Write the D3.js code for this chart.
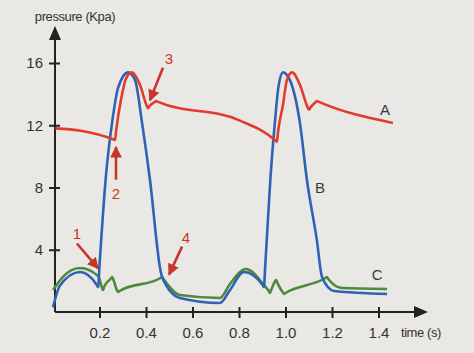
<!DOCTYPE html>
<html>
<head>
<meta charset="utf-8">
<script src="https://cdn.jsdelivr.net/npm/d3@7"></script>
<style>
  body { margin: 0; background: #e9e8e5; }
  svg { display: block; font-family: "Liberation Sans", Arial, sans-serif; }
</style>
</head>
<body>
<div id="chart"></div>
<script>
// time (s) and pressure (kPa)
var aorta = [
  [0.01, 11.8], [0.12, 11.65], [0.262, 11.08], [0.267, 11.05], [0.272, 11.7],
  [0.292, 13.6], [0.314, 15.0], [0.34, 15.4], [0.374, 14.6], [0.402, 13.3],
  [0.409, 13.1], [0.416, 13.25], [0.438, 13.5], [0.443, 13.56], [0.452, 13.5],
  [0.804, 12.3], [0.958, 11.0], [0.963, 10.93], [0.968, 11.6], [0.989, 13.3],
  [1.006, 14.9], [1.028, 15.4], [1.062, 14.6], [1.094, 13.2], [1.101, 13.0],
  [1.108, 13.15], [1.13, 13.5], [1.135, 13.56], [1.144, 13.5], [1.462, 12.15]
];
var ventricle = [
  [0.00, 0.3], [0.03, 1.7], [0.116, 2.57], [0.188, 1.75], [0.194, 1.6],
  [0.2, 3.0], [0.228, 8.8], [0.254, 12.15], [0.28, 14.4], [0.323, 15.4],
  [0.353, 14.9], [0.383, 12.15], [0.417, 8.5], [0.462, 2.7], [0.469, 2.25],
  [0.546, 0.9], [0.718, 0.58], [0.761, 1.4], [0.821, 2.57], [0.901, 1.75],
  [0.907, 1.6], [0.913, 3.0], [0.936, 8.8], [0.955, 12.3], [0.97, 14.5],
  [0.989, 15.4], [1.019, 14.9], [1.062, 12.15], [1.092, 8.5], [1.135, 4.6],
  [1.157, 2.25], [1.209, 1.35], [1.437, 1.16]
];
var atrium = [
  [0.00, 1.41], [0.039, 2.2], [0.116, 2.83], [0.194, 2.31], [0.21, 1.6],
  [0.215, 1.41], [0.221, 1.65], [0.249, 2.15], [0.254, 2.25], [0.259, 2.1],
  [0.275, 1.4], [0.28, 1.29], [0.286, 1.35], [0.464, 2.2], [0.469, 2.25],
  [0.476, 2.1], [0.546, 1.09], [0.718, 0.9], [0.761, 1.8], [0.83, 2.76],
  [0.907, 1.74], [0.928, 1.35], [0.933, 1.22], [0.938, 1.4], [0.954, 1.95],
  [0.959, 2.06], [0.964, 1.9], [0.989, 1.25], [0.994, 1.16], [1.0, 1.22],
  [1.173, 2.2], [1.178, 2.25], [1.185, 2.1], [1.243, 1.54], [1.437, 1.48]
];
var xTicks = [0.2, 0.4, 0.6, 0.8, 1.0, 1.2, 1.4];
var yTicks = [4, 8, 12, 16];
var seriesNames = [["A", 1.428, 13.0], ["B", 1.148, 8.0], ["C", 1.394, 2.4]];
// annotation arrows: label, label pos, arrow start, arrow tip (t, kPa)
var notes = [
  ["1", [0.103, 5.0], [0.103, 4.4], [0.194, 2.8]],
  ["2", [0.271, 7.6], [0.271, 8.5], [0.271, 10.6]],
  ["3", [0.499, 16.3], [0.473, 15.7], [0.417, 13.6]],
  ["4", [0.572, 4.8], [0.555, 4.2], [0.499, 2.4]]
];

var width = 474, height = 353;
var x = d3.scaleLinear().domain([0, 1.4]).range([53, 378.5]);
var y = d3.scaleLinear().domain([0, 16]).range([312, 63]);
var axisX = 55;

var svg = d3.select("#chart").append("svg")
    .attr("width", width)
    .attr("height", height);

svg.append("rect").attr("width", width).attr("height", height).attr("fill", "#e9e8e5");

var defs = svg.append("defs");
defs.append("marker").attr("id", "head")
    .attr("viewBox", "0 0 10 10").attr("refX", 9).attr("refY", 5)
    .attr("markerWidth", 4.5).attr("markerHeight", 4.5).attr("orient", "auto")
  .append("path").attr("d", "M0,0L10,5L0,10z").attr("fill", "#c8352b");

// axes
var gx = svg.append("g").attr("transform", "translate(0," + y(0) + ")")
    .call(d3.axisBottom(x).tickValues(xTicks).tickFormat(d3.format(".1f")).tickSize(0).tickPadding(15));
gx.select(".domain").remove();
gx.selectAll(".tick").append("line").attr("y1", -5).attr("y2", 6).attr("stroke", "#222").attr("stroke-width", 2);
gx.selectAll("text").attr("font-size", 15).attr("fill", "#333");

var gy = svg.append("g").attr("transform", "translate(" + axisX + ",0)")
    .call(d3.axisLeft(y).tickValues(yTicks).tickSize(0).tickPadding(12));
gy.select(".domain").remove();
gy.selectAll(".tick").append("line").attr("x1", -6).attr("x2", 5).attr("stroke", "#222").attr("stroke-width", 2);
gy.selectAll("text").attr("font-size", 15).attr("fill", "#333");

svg.append("line").attr("x1", axisX).attr("x2", 416).attr("y1", y(0)).attr("y2", y(0))
    .attr("stroke", "#222").attr("stroke-width", 2);
svg.append("path").attr("d", "M428," + y(0) + "L414," + (y(0) - 6) + "L414," + (y(0) + 6) + "z").attr("fill", "#222");
svg.append("line").attr("x1", axisX).attr("x2", axisX).attr("y1", y(0)).attr("y2", 38)
    .attr("stroke", "#222").attr("stroke-width", 2);
svg.append("path").attr("d", "M" + axisX + ",26L" + (axisX - 6) + ",40L" + (axisX + 6) + ",40z").attr("fill", "#222");

svg.append("text").attr("x", 75).attr("y", 21).attr("text-anchor", "middle")
    .attr("font-size", 13).attr("letter-spacing", -0.4).attr("fill", "#333").text("pressure (Kpa)");
svg.append("text").attr("x", 421).attr("y", 337).attr("text-anchor", "middle")
    .attr("font-size", 13).attr("letter-spacing", -0.4).attr("fill", "#333").text("time (s)");

// curves
var line = d3.line()
    .x(function(d) { return x(d[0]); })
    .y(function(d) { return y(d[1]); })
    .curve(d3.curveMonotoneX);

[[atrium, "#4e8a3c"], [ventricle, "#2f62b5"], [aorta, "#e23b2d"]].forEach(function(s) {
  svg.append("path").datum(s[0])
      .attr("d", line)
      .attr("fill", "none")
      .attr("stroke", s[1])
      .attr("stroke-width", 2.6)
      .attr("stroke-linejoin", "round");
});

svg.selectAll(".series-label").data(seriesNames).enter().append("text")
    .attr("class", "series-label")
    .attr("x", function(d) { return x(d[1]); })
    .attr("y", function(d) { return y(d[2]); })
    .attr("text-anchor", "middle").attr("dy", "0.35em")
    .attr("font-size", 15).attr("fill", "#3a3a3a")
    .text(function(d) { return d[0]; });

// red annotation arrows
svg.selectAll(".note-arrow").data(notes).enter().append("line")
    .attr("class", "note-arrow")
    .attr("x1", function(d) { return x(d[2][0]); })
    .attr("y1", function(d) { return y(d[2][1]); })
    .attr("x2", function(d) { return x(d[3][0]); })
    .attr("y2", function(d) { return y(d[3][1]); })
    .attr("stroke", "#c8352b").attr("stroke-width", 2.6)
    .attr("marker-end", "url(#head)");

svg.selectAll(".note-label").data(notes).enter().append("text")
    .attr("class", "note-label")
    .attr("x", function(d) { return x(d[1][0]); })
    .attr("y", function(d) { return y(d[1][1]); })
    .attr("text-anchor", "middle").attr("dy", "0.35em")
    .attr("font-size", 15).attr("fill", "#c8352b")
    .text(function(d) { return d[0]; });
</script>
</body>
</html>
